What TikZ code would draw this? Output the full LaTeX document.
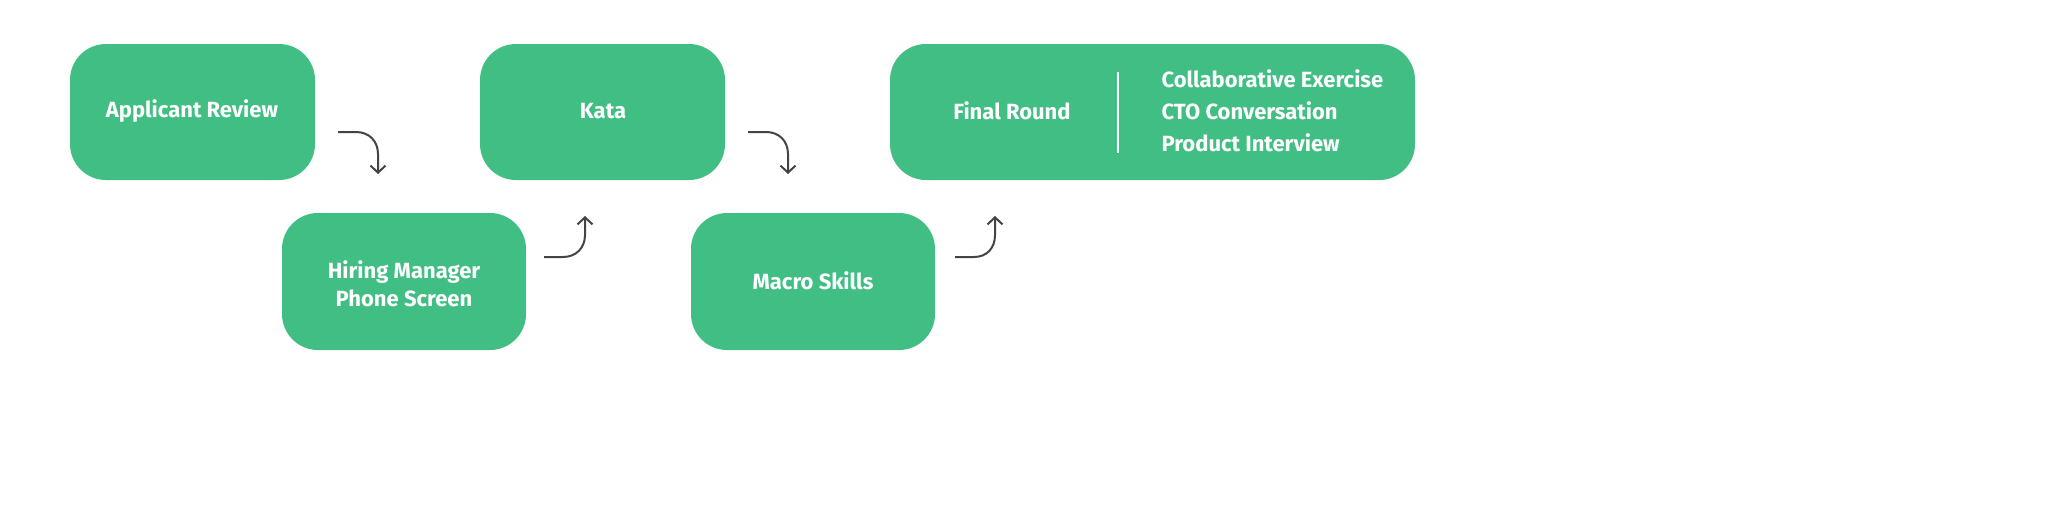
\documentclass[tikz,border=0pt]{standalone}
\usepackage{fontspec}
\setmainfont{Fira Sans}
\usetikzlibrary{arrows.meta}
\definecolor{stepgreen}{HTML}{41BE83}
\definecolor{arrowgray}{HTML}{444444}
\begin{document}
\begin{tikzpicture}[x=1pt,y=-1pt,
  stagebox/.style={fill=stepgreen,rounded corners=36pt},
  lbl/.style={text=white,font=\fontsize{22}{28}\selectfont\bfseries,align=center},
  conn/.style={draw=arrowgray,line width=2pt,-{Straight Barb[length=7pt,width=15pt]}}]
\useasboundingbox (0,0) rectangle (2070,509);
\fill[white] (0,0) rectangle (2070,509);
\fill[stagebox] (70,44) rectangle (315,180);
\fill[stagebox] (480,44) rectangle (725,180);
\fill[stagebox] (890,44) rectangle (1415,180);
\fill[stagebox] (282,213) rectangle (526,350);
\fill[stagebox] (691,213) rectangle (935,350);
\node[lbl] (ar) at (192,111) {Applicant Review};
\node[lbl] (ka) at (603,111) {Kata};
\node[lbl] (fr) at (1012,111) {Final Round};
\node[lbl] (hm) at (404,284) {Hiring Manager\\Phone Screen};
\node[lbl] (ms) at (813,281) {Macro Skills};
\draw[white,line width=2pt] (1118,72) -- (1118,153);
\node[lbl,anchor=west,align=left,font=\fontsize{22}{32}\selectfont\bfseries] (fl) at (1158,111) {Collaborative Exercise\\CTO Conversation\\Product Interview};
\coordinate (a1) at (338,132); \coordinate (b1) at (378,174);
\coordinate (a2) at (544,257); \coordinate (b2) at (585,216);
\coordinate (a3) at (748,132); \coordinate (b3) at (788,174);
\coordinate (a4) at (955,257); \coordinate (b4) at (995,216);
\draw[conn] (a1) -- (356,132) .. controls (369,132) and (378,141) .. (378,154) -- (b1);
\draw[conn] (a3) -- (766,132) .. controls (779,132) and (788,141) .. (788,154) -- (b3);
\draw[conn] (a2) -- (563,257) .. controls (576,257) and (585,248) .. (585,235) -- (b2);
\draw[conn] (a4) -- (974,257) .. controls (987,257) and (995,248) .. (995,235) -- (b4);
\end{tikzpicture}
\end{document}
